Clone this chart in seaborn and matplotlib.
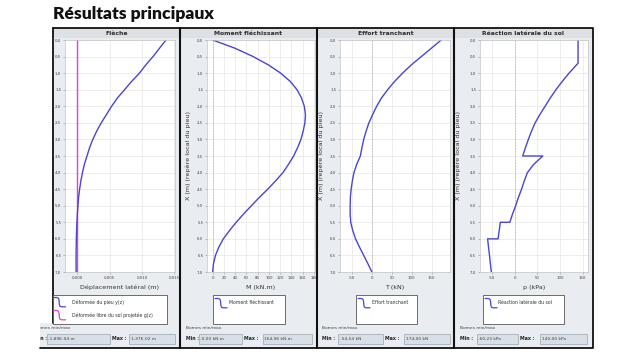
import matplotlib
matplotlib.use("Agg")
import matplotlib.pyplot as plt
from matplotlib.patches import Rectangle
from matplotlib.lines import Line2D
from matplotlib.ticker import FixedLocator, FuncFormatter
import seaborn as sns

# depth along the pile (m)
depth = [0.0, 0.25, 0.5, 0.75, 1.0, 1.25, 1.5, 1.75, 2.0, 2.25, 2.5, 2.75, 3.0, 3.25, 3.5,
         3.75, 4.0, 4.25, 4.5, 4.75, 5.0, 5.25, 5.5, 5.75, 6.0, 6.25, 6.5, 6.75, 7.0]
# pile deflection y(z) (m)
pile_y = [0.0137, 0.0127, 0.0117, 0.0106, 0.0096, 0.0084, 0.0073, 0.0062, 0.0053, 0.0045,
          0.0037, 0.0030, 0.0024, 0.0019, 0.0015, 0.0011, 0.0008, 0.00055, 0.00036, 0.0002,
          0.0001, 0.00001, -0.00006, -0.00011, -0.00015, -0.00017, -0.00019, -0.00019, -0.00018]
# free soil displacement g(z) (m)
soil_depth = [0.0, 7.0]
soil_g = [0.0, 0.0]
# bending moment (kN.m)
moment = [0, 40, 72, 99, 121, 138, 150, 158, 163, 165, 164, 161, 157, 151, 144,
          135, 125, 112, 98, 83, 69, 55, 42, 30, 19, 11, 5, 1.5, 0]
# shear force (kN)
shear = [174, 149, 124, 99, 77, 57, 39.5, 24, 12, 2, -7.5, -14.5, -20.5, -25, -29,
         -38, -45, -49, -52, -54, -54.5, -54.5, -53, -48, -41, -31, -20.5, -10, 0]
# soil lateral reaction (kPa), jumps at layer boundaries
react_depth = [0.0, 0.7, 1.0, 1.25, 1.5, 1.75, 2.0, 2.25, 2.5, 2.75, 3.0, 3.25, 3.5, 3.5,
               3.75, 4.0, 4.25, 4.5, 4.75, 5.0, 5.25, 5.5, 5.5, 6.0, 6.0, 6.5, 7.0]
react_p = [140, 140, 120, 105, 91, 78.5, 67, 55.5, 45, 37, 30, 23.5, 17.5, 62,
           42, 28, 21, 15, 8, 2, -5, -11, -32, -37, -60.2, -56, -52]

depth_ticks = [0.0, 0.5, 1.0, 1.5, 2.0, 2.5, 3.0, 3.5, 4.0, 4.5, 5.0, 5.5, 6.0, 6.5, 7.0]
defl_ticks = [0.000, 0.005, 0.010, 0.015]
moment_ticks = [0, 20, 40, 60, 80, 100, 120, 140, 160, 180]
shear_ticks = [-50, 0, 50, 100, 150]
react_ticks = [-50, 0, 50, 100, 150]

titles = ["Flèche", "Moment fléchissant", "Effort tranchant", "Réaction latérale du sol"]
xlabels = ["Déplacement latéral (m)", "M (kN.m)", "T (kN)", "p (kPa)"]
ylabel = "X (m) (repère local du pieu)"
mins = ["-1,89E-04 m", "-0,00 kN.m", "-54,54 kN", "-60,23 kPa"]
maxs = ["1,37E-02 m", "164,96 kN.m", "174,00 kN", "140,00 kPa"]

W, H = 640, 356
BLUE = "#4b44d4"
MAGENTA = "#e040d8"
PANEL = "#e9ecf0"
HEAD = "#dde1e6"

sns.set_style("white")
plt.rcParams["font.family"] = ["DejaVu Sans"]

fig = plt.figure(figsize=(W / 100, H / 100), dpi=100)
fig.patch.set_facecolor("white")


def box(x0, y0, x1, y1, **kw):
    kw.setdefault("zorder", -5)
    r = Rectangle((x0 / W, 1 - y1 / H), (x1 - x0) / W, (y1 - y0) / H,
                  transform=fig.transFigure, **kw)
    fig.add_artist(r)
    return r


def txt(x, y, s, **kw):
    kw.setdefault("fontsize", 3.3)
    kw.setdefault("color", "#333333")
    kw.setdefault("va", "center")
    return fig.text(x / W, 1 - y / H, s, **kw)


def line(xs, ys, **kw):
    fig.add_artist(Line2D([x / W for x in xs], [1 - y / H for y in ys],
                          transform=fig.transFigure, **kw))


def comma(fmt):
    return FuncFormatter(lambda v, p: format(v, fmt).replace(".", ","))


# title
txt(53, 19.5, "Résultats principaux", family="Lato", weight="heavy", fontsize=12.6,
    color="#111111", va="baseline")

# panels: (left, right) in px, axes (left, right)
panels = [(53, 180), (180, 317), (317, 454), (454, 593)]
axes_x = [(65, 175), (207, 315), (340, 450), (480, 588)]
ylab_x = [None, 188, 321, 458]

# panel backgrounds
box(40, 323, 180, 348, facecolor=PANEL, edgecolor="none")
for (p0, p1), t in zip(panels, titles):
    box(p0, 28, p1, 348, facecolor=PANEL, edgecolor="none")
    box(p0, 28, p1, 38, facecolor=HEAD, edgecolor="none")
    txt((p0 + p1) / 2, 33.2, t, fontsize=4.4, weight="bold", ha="center", color="#2a2a2a")

# frame
line([53, 593, 593, 40], [28, 28, 348, 348], color="#111111", lw=1.3, zorder=4)
line([53, 53], [28, 323], color="#111111", lw=1.3, zorder=4)
for xd in [180, 317, 454]:
    line([xd, xd], [28, 348], color="#111111", lw=1.5, zorder=4)

series = [
    (pile_y, depth, defl_ticks, (-0.0019, 0.0151), comma(".3f")),
    (moment, depth, moment_ticks, (-10, 182), FuncFormatter(lambda v, p: f"{v:.0f}")),
    (shear, depth, shear_ticks, (-80, 196), FuncFormatter(lambda v, p: f"{v:.0f}")),
    (react_p, react_depth, react_ticks, (-77, 162), FuncFormatter(lambda v, p: f"{v:.0f}")),
]

top, bot = 40, 272
for i, (xs, ys, ticks, lim, fmt) in enumerate(series):
    a0, a1 = axes_x[i]
    ax = fig.add_axes([a0 / W, 1 - bot / H, (a1 - a0) / W, (bot - top) / H])
    ax.set_facecolor("white")
    if i == 0:
        sns.lineplot(x=soil_g, y=soil_depth, sort=False, estimator=None, color=MAGENTA,
                     lw=1.0, ax=ax)
    else:
        ax.axvline(0, color="#9a9a9a", lw=0.5, ls=(0, (1, 1.2)), zorder=1)
    sns.lineplot(x=xs, y=ys, sort=False, estimator=None, color=BLUE, lw=1.0, ax=ax)
    ax.set_xlim(*lim)
    ax.set_ylim(7, 0)
    ax.xaxis.set_major_locator(FixedLocator(ticks))
    ax.yaxis.set_major_locator(FixedLocator(depth_ticks))
    ax.xaxis.set_major_formatter(fmt)
    ax.yaxis.set_major_formatter(comma(".1f"))
    ax.grid(True, color="#e6e6e6", lw=0.5)
    ax.set_axisbelow(True)
    for s in ax.spines.values():
        s.set_color("#c4c4c4")
        s.set_linewidth(0.5)
    ax.tick_params(labelsize=2.8, length=1.5, width=0.4, color="#8a8a8a", pad=1.2,
                   labelcolor="#444444", bottom=True, left=True)
    ax.set_xlabel(xlabels[i], fontsize=4.6, color="#333333")
    ax.xaxis.label.set_va("center")
    ax.xaxis.set_label_coords(0.5, -(287 - bot) / (bot - top))
    if ylab_x[i] is not None:
        ax.set_ylabel(ylabel, fontsize=4.6, color="#333333")
        ax.yaxis.label.set_va("center")
        ax.yaxis.set_label_coords((ylab_x[i] - a0) / (a1 - a0), 0.5)
    else:
        ax.set_ylabel("")


def icon(x0, y0, color):
    # small legend sample: step-like curve
    xs = [x0, x0 + 3.5, x0 + 5, x0 + 5.6, x0 + 5.8, x0 + 6.4, x0 + 8, x0 + 12]
    ys = [y0, y0, y0 + 0.8, y0 + 3, y0 + 6.5, y0 + 8.6, y0 + 9.3, y0 + 9.3]
    line(xs, ys, color=color, lw=0.9, zorder=6)


# legends
box(53, 295, 167, 323.5, facecolor="white", edgecolor="#555555", lw=0.6, zorder=5)
icon(53.5, 297.5, BLUE)
icon(53.5, 310.5, MAGENTA)
txt(72, 302.5, "Déformée du pieu y(z)", zorder=6)
txt(72, 315.5, "Déformée libre du sol projetée g(z)", zorder=6)
for (b0, b1, tx), t in zip([(213, 285, 229), (356, 417, 371.5), (483, 563.5, 498)], titles[1:]):
    box(b0, 295, b1, 323.5, facecolor="white", edgecolor="#555555", lw=0.6, zorder=5)
    icon(b0 + 2, 298.5, BLUE)
    txt(tx, 302.7, t, zorder=6)

# min/max bounds
bornes = [
    (41, 34, 46.7, 110, 111.5, 129.3, 175),
    (186.5, 186.5, 199, 242, 244, 263, 312),
    (322.5, 322.5, 338.3, 382.7, 385, 404, 450),
    (460.5, 460.5, 476.7, 518.3, 520.5, 540, 586.7),
]
clip = Rectangle((40 / W, 0), 560 / W, 1, transform=fig.transFigure, visible=False)
fig.add_artist(clip)
for (lx, mx, f0, f1, xx, g0, g1), lo, hi in zip(bornes, mins, maxs):
    t1 = txt(lx - 6 if lx < 50 else lx, 327.8, "Bornes min/max", fontsize=3.2, color="#444444")
    t1.set_clip_path(clip)
    t2 = txt(mx, 338.7, "Min :", fontsize=3.4, weight="bold", color="#222222")
    t2.set_clip_path(clip)
    box(f0, 333.8, f1, 343.6, facecolor="#d8dfe7", edgecolor="#9aa3ad", lw=0.5, zorder=1)
    txt(f0 + 1.5, 338.7, lo, fontsize=3.2, color="#444444")
    txt(xx, 338.7, "Max :", fontsize=3.4, weight="bold", color="#222222")
    box(g0, 333.8, g1, 343.6, facecolor="#d8dfe7", edgecolor="#9aa3ad", lw=0.5, zorder=1)
    txt(g0 + 1.5, 338.7, hi, fontsize=3.2, color="#444444")

fig.savefig("out.png", dpi=100, facecolor="white")
